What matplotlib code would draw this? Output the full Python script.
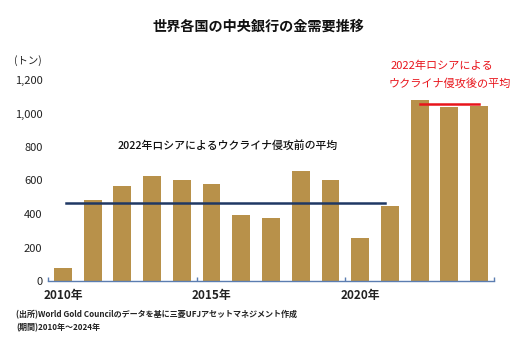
import matplotlib
matplotlib.use("Agg")
import matplotlib.pyplot as plt

plt.rcParams['font.family'] = ['Noto Sans CJK JP', 'DejaVu Sans']

years = list(range(2010, 2025))
demand = [79, 481, 569, 629, 601, 580, 395, 379, 656, 605, 255, 450, 1082, 1037, 1045]
avg_before = 467
avg_after = 1058
xtick_labels = ["2010年", "2015年", "2020年"]
ytick_values = [0, 200, 400, 600, 800, 1000, 1200]

W, H = 521, 353
fig = plt.figure(figsize=(W / 100, H / 100), dpi=100)
ax = fig.add_axes([48 / W, 72 / H, 446 / W, 201 / H])

x = list(range(len(years)))
ax.bar(x, demand, width=0.6, color="#B8914A", zorder=2)

i0 = years.index(2010)
i1 = years.index(2021)
ax.plot([i0 + 0.1, i1 - 0.15], [avg_before, avg_before], color="#1F3864", lw=1.8, zorder=3)
j0 = years.index(2022)
j1 = years.index(2024)
ax.plot([j0, j1], [avg_after, avg_after], color="#E8141B", lw=1.8, zorder=3)

ax.set_xlim(-0.5, len(years) - 0.5)
ax.set_ylim(0, 1200)

for s in ["top", "right", "left"]:
    ax.spines[s].set_visible(False)
ax.spines["bottom"].set_color("#5B7DB1")
ax.spines["bottom"].set_linewidth(1.0)

ax.set_yticks(ytick_values)
ax.set_yticklabels([f"{v:,}" for v in ytick_values], fontsize=8, color="#222222")
ax.tick_params(axis="y", length=0, pad=4)

ax.set_xticks([-0.5, 4.5, 9.5, 14.5])
ax.set_xticklabels([])
ax.tick_params(axis="x", direction="in", length=3, color="#5B7DB1", width=1.0)
for lab, yr in zip(xtick_labels, [2010, 2015, 2020]):
    ax.text(years.index(yr), -0.04, lab, transform=ax.get_xaxis_transform(),
            ha="center", va="top", fontsize=8.5, fontweight="bold", color="#222222")

fig.text(258 / W, 1 - 27 / H, "世界各国の中央銀行の金需要推移", ha="center", va="center",
         fontsize=10.2, fontweight="bold", color="#111111")
fig.text(14 / W, 1 - 61 / H, "(トン)", ha="left", va="center", fontsize=7.5, color="#222222")

fig.text(228 / W, 1 - 146 / H, "2022年ロシアによるウクライナ侵攻前の平均", ha="center", va="center",
         fontsize=7.8, fontweight="medium", color="#111111")
fig.text(442 / W, 1 - 66 / H, "2022年ロシアによる", ha="center", va="center",
         fontsize=8, color="#E8141B")
fig.text(450 / W, 1 - 83 / H, "ウクライナ侵攻後の平均", ha="center", va="center",
         fontsize=8, color="#E8141B")

fig.text(16 / W, 1 - 315 / H, "(出所)World Gold Councilのデータを基に三菱UFJアセットマネジメント作成",
         ha="left", va="center", fontsize=5.8, fontweight="bold", color="#222222")
fig.text(16 / W, 1 - 328 / H, "(期間)2010年～2024年", ha="left", va="center",
         fontsize=5.8, fontweight="bold", color="#222222")

fig.savefig("out.png", dpi=100)
